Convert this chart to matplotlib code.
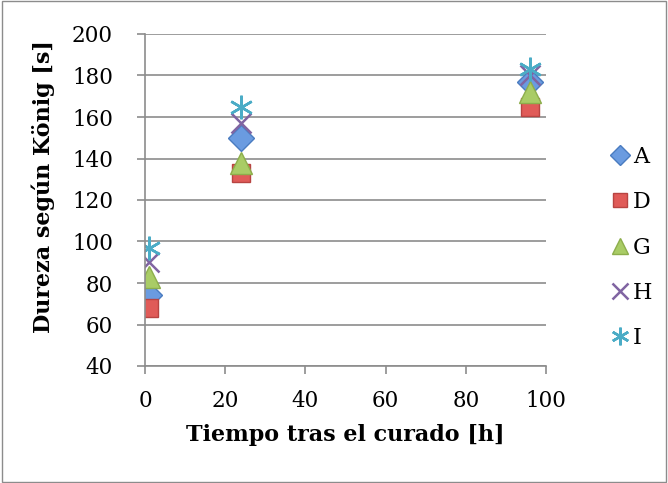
import matplotlib
matplotlib.use("Agg")
import matplotlib.pyplot as plt
from matplotlib.patches import Rectangle

# Data
hours = [1, 24, 96]
series_names = ["A", "D", "G", "H", "I"]
A = [74, 150, 177]
D = [68, 133, 165]
G = [83, 138, 172]
H = [90, 157, 180]
I = [97, 165, 183]
y_ticks = [40, 60, 80, 100, 120, 140, 160, 180, 200]
x_ticks = [0, 20, 40, 60, 80, 100]

plt.rcParams['font.family'] = ['DejaVu Serif']

fig = plt.figure(figsize=(6.68, 4.83), dpi=100)
ax = fig.add_axes([145/668, 1-366/483, (546-145)/668, (366-34)/483])

styles = [
    dict(marker='D', color='#4F81BD', mfc='#6A9BE0', mec='#4A7CC0', ms=13),
    dict(marker='s', color='#C0504D', mfc='#E05B58', mec='#B84442', ms=13),
    dict(marker='^', color='#9BBB59', mfc='#A9CC66', mec='#8DAE4C', ms=16),
    dict(marker='x', color='#8064A2', mfc='#8064A2', mec='#8064A2', ms=15, mew=1.8),
    dict(marker=(6, 2, 0), color='#4BACC6', mfc='#4BACC6', mec='#4BACC6', ms=17, mew=1.8),
]
for name, vals, st in zip(series_names, [A, D, G, H, I], styles):
    ax.plot(hours, vals, linestyle='none', label=name, **st)

ax.set_xlim(0, 100)
ax.set_ylim(40, 200)
ax.set_xticks(x_ticks)
ax.set_yticks(y_ticks)
ax.yaxis.grid(True, color='#8c8c8c', linewidth=1.2)
ax.set_axisbelow(True)
for s in ['top', 'right']:
    ax.spines[s].set_visible(False)
for s in ['left', 'bottom']:
    ax.spines[s].set_color('#8c8c8c')
    ax.spines[s].set_linewidth(1.2)
ax.tick_params(axis='y', direction='out', length=6, width=1.2, color='#8c8c8c',
               labelsize=15.5, labelcolor='black', pad=17)
ax.tick_params(axis='x', direction='out', length=6, width=1.2, color='#8c8c8c',
               labelsize=15.5, labelcolor='black', pad=11)
ax.set_xlabel('Tiempo tras el curado [h]', fontsize=16, fontweight='bold', labelpad=9)
ax.set_ylabel('Dureza según König [s]', fontsize=16, fontweight='bold', labelpad=3)
ax.yaxis.set_label_coords(-90/401, 0.54)

leg = fig.legend(loc='upper left', bbox_to_anchor=(602/668, 1-137/483), frameon=False,
                 fontsize=16, handlelength=0.8, handletextpad=0.2, labelspacing=1.05,
                 borderaxespad=0, markerscale=0.75)

fig.patches.append(Rectangle((0.003, 0.003), 0.994, 0.994, transform=fig.transFigure,
                             fill=False, edgecolor='#8c8c8c', linewidth=1.0))

fig.savefig('out.png', dpi=100)
